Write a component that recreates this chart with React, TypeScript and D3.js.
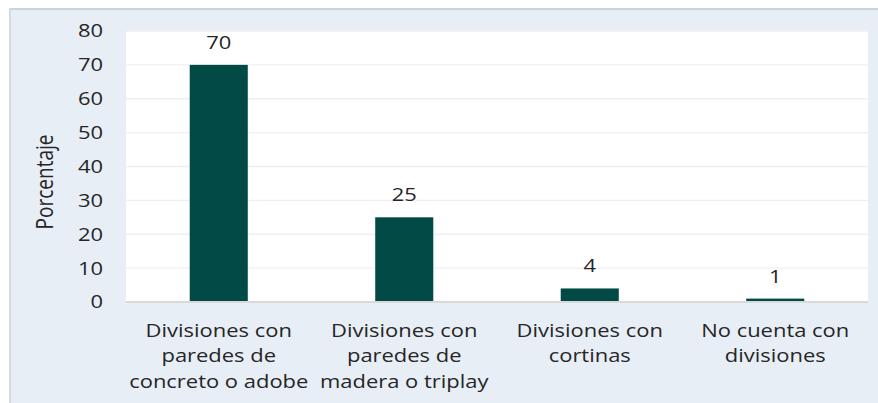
import React, { useEffect, useRef } from 'react';
import * as d3 from 'd3';

const categories = [
  ['Divisiones con', 'paredes de', 'concreto o adobe'],
  ['Divisiones con', 'paredes de', 'madera o triplay'],
  ['Divisiones con', 'cortinas'],
  ['No cuenta con', 'divisiones'],
];
const values = [70, 25, 4, 1];
const yTicks = [0, 10, 20, 30, 40, 50, 60, 70, 80];
const yLabel = 'Porcentaje';

const W = 878;
const H = 403;
const FONT = '"Open Sans", sans-serif';
const FS = 18;
const SX = 1.22; // the text in the picture is wider than the font

export default function App() {
  const svgRef = useRef<SVGSVGElement>(null);

  useEffect(() => {
    const svg = d3.select(svgRef.current);
    svg.selectAll('*').remove();

    const left = 126, right = 868, top = 31, bottom = 302;

    // chart background + frame
    svg.append('rect').attr('x', 9).attr('y', 8).attr('width', W - 9).attr('height', H - 8).attr('fill', '#e8eef6');
    svg.append('line').attr('x1', 9).attr('x2', W).attr('y1', 9).attr('y2', 9).attr('stroke', '#cfd2d6').attr('stroke-width', 2);
    svg.append('line').attr('x1', 10).attr('x2', 10).attr('y1', 8).attr('y2', H).attr('stroke', '#d6d9dd').attr('stroke-width', 2);

    svg.append('rect').attr('x', left).attr('y', top).attr('width', right - left).attr('height', bottom - top).attr('fill', '#ffffff');

    const x = d3.scaleBand<number>()
      .domain(d3.range(values.length))
      .range([left, right])
      .paddingInner(0.687)
      .paddingOuter(0.3435);

    const y = d3.scaleLinear().domain([0, 80]).range([bottom, top]);

    // gridlines
    svg.append('g')
      .selectAll('line')
      .data(yTicks.slice(1))
      .join('line')
      .attr('x1', left).attr('x2', right)
      .attr('y1', d => y(d)).attr('y2', d => y(d))
      .attr('stroke', '#efefef').attr('stroke-width', 1.3);

    // y tick labels
    svg.append('g')
      .selectAll('text')
      .data(yTicks)
      .join('text')
      .attr('transform', d => `translate(103,${y(d)}) scale(${SX},1)`)
      .attr('dy', '0.36em')
      .attr('text-anchor', 'end')
      .attr('font-family', FONT).attr('font-size', FS).attr('fill', '#262626')
      .text(d => d);

    svg.append('text')
      .attr('transform', `translate(53,182) rotate(-90) scale(1,${SX})`)
      .attr('text-anchor', 'middle')
      .attr('font-family', FONT).attr('font-size', 19).attr('fill', '#262626')
      .text(yLabel);

    // bars
    svg.append('g')
      .selectAll('rect')
      .data(values)
      .join('rect')
      .attr('x', (d, i) => x(i)!)
      .attr('y', d => y(d))
      .attr('width', x.bandwidth())
      .attr('height', d => bottom - y(d))
      .attr('fill', '#024a46');

    // value labels
    svg.append('g')
      .selectAll('text')
      .data(values)
      .join('text')
      .attr('transform', (d, i) => `translate(${x(i)! + x.bandwidth() / 2},${y(d) - 16}) scale(${SX},1)`)
      .attr('text-anchor', 'middle')
      .attr('font-family', FONT).attr('font-size', FS).attr('fill', '#262626')
      .text(d => d);

    // axis baseline
    svg.append('line')
      .attr('x1', left).attr('x2', right)
      .attr('y1', bottom).attr('y2', bottom)
      .attr('stroke', '#d9d9d9').attr('stroke-width', 2);

    // category labels
    const cat = svg.append('g')
      .selectAll('text')
      .data(categories)
      .join('text')
      .attr('transform', (d, i) => `translate(${x(i)! + x.bandwidth() / 2},337) scale(${SX},1)`)
      .attr('text-anchor', 'middle')
      .attr('font-family', FONT).attr('font-size', FS).attr('fill', '#262626');
    cat.selectAll('tspan')
      .data(d => d)
      .join('tspan')
      .attr('x', 0)
      .attr('y', (d, i) => i * 25.5)
      .text(d => d);
  }, []);

  return (
    <svg ref={svgRef} width={W} height={H}
      style={{ position: 'absolute', left: 0, top: 0, display: 'block' }} />
  );
}
